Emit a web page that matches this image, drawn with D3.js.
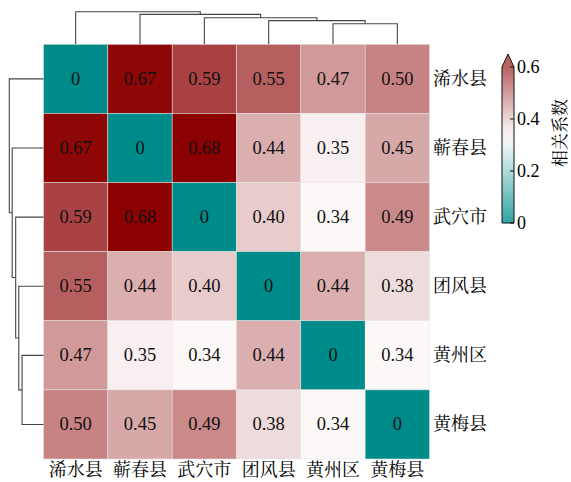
<!DOCTYPE html>
<html>
<head>
<meta charset="utf-8">
<script src="https://cdn.jsdelivr.net/npm/d3@7"></script>
<style>
  body { margin: 0; background: #fff; }
  text { font-family: "Liberation Serif", "Times New Roman", "Noto Serif CJK SC", "Noto Sans CJK SC", serif; }
</style>
</head>
<body>
<div id="chart"></div>
<script>
// counties in clustered order
const labels = ["浠水县", "蕲春县", "武穴市", "团风县", "黄州区", "黄梅县"];

// correlation matrix (rows / cols in label order)
const row0 = [0, 0.67, 0.59, 0.55, 0.47, 0.50];
const row1 = [0.67, 0, 0.68, 0.44, 0.35, 0.45];
const row2 = [0.59, 0.68, 0, 0.40, 0.34, 0.49];
const row3 = [0.55, 0.44, 0.40, 0, 0.44, 0.38];
const row4 = [0.47, 0.35, 0.34, 0.44, 0, 0.34];
const row5 = [0.50, 0.45, 0.49, 0.38, 0.34, 0];
const matrix = [row0, row1, row2, row3, row4, row5];

// linkage (scipy style: node ids >= 6 are clusters)
const mergeLeft = [4, 3, 2, 1, 0];
const mergeRight = [5, 6, 7, 8, 9];
const mergeHeight = [0.52, 0.60, 0.675, 0.76, 0.83];

const cbTicks = [0, 0.2, 0.4, 0.6];

const width = 571, height = 482;

const svg = d3.select("#chart").append("svg")
    .attr("width", width)
    .attr("height", height);

// grid scales
const x = d3.scaleBand().domain(d3.range(labels.length)).range([43.5, 429.5]);
const y = d3.scaleBand().domain(d3.range(labels.length)).range([44.3, 459]);

const color = d3.scaleLinear()
    .domain([0, 0.33, 0.68])
    .range(["#008b8b", "#ffffff", "#8b0000"])
    .clamp(true);

// cells
matrix.forEach((row, i) => {
    row.forEach((v, j) => {
        svg.append("rect")
            .attr("x", x(j))
            .attr("y", y(i))
            .attr("width", x.bandwidth())
            .attr("height", y.bandwidth())
            .attr("fill", color(v))
            .attr("stroke", "#e6e6e6")
            .attr("stroke-width", 0.5);

        svg.append("text")
            .attr("x", x(j) + x.bandwidth() / 2)
            .attr("y", y(i) + y.bandwidth() / 2)
            .attr("text-anchor", "middle")
            .attr("dominant-baseline", "central")
            .attr("font-size", 18.5)
            .attr("fill", "#111")
            .text(v === 0 ? "0" : v.toFixed(2));
    });
});

// right labels
labels.forEach((l, i) => {
    svg.append("text")
        .attr("x", 433)
        .attr("y", y(i) + y.bandwidth() / 2)
        .attr("dominant-baseline", "central")
        .attr("font-size", 18)
        .text(l);
});

// bottom labels
labels.forEach((l, j) => {
    svg.append("text")
        .attr("x", x(j) + x.bandwidth() / 2)
        .attr("y", 476)
        .attr("text-anchor", "middle")
        .attr("font-size", 18)
        .text(l);
});

// dendrogram geometry: position along leaf axis + height of each node
function buildNodes() {
    let pos = {}, h = {};
    labels.forEach((l, i) => { pos[i] = i; h[i] = 0; });
    mergeLeft.forEach((a, k) => {
        let b = mergeRight[k], id = labels.length + k;
        pos[id] = (pos[a] + pos[b]) / 2;
        h[id] = mergeHeight[k];
    });
    return {pos, h};
}
const nodes = buildNodes();
const maxH = d3.max(mergeHeight);

// top dendrogram
const topH = d3.scaleLinear().domain([0, maxH]).range([44, 11.7]);
const topPos = p => x(0) + x.bandwidth() / 2 + p * x.bandwidth();
// left dendrogram
const leftH = d3.scaleLinear().domain([0, maxH]).range([43.5, 9.3]);
const leftPos = p => y(0) + y.bandwidth() / 2 + p * y.bandwidth();

mergeLeft.forEach((a, k) => {
    let b = mergeRight[k], hh = mergeHeight[k];
    let pts = [
        [topPos(nodes.pos[a]), topH(nodes.h[a])],
        [topPos(nodes.pos[a]), topH(hh)],
        [topPos(nodes.pos[b]), topH(hh)],
        [topPos(nodes.pos[b]), topH(nodes.h[b])]
    ];
    svg.append("path")
        .attr("d", d3.line()(pts))
        .attr("fill", "none")
        .attr("stroke", "#444")
        .attr("stroke-width", 1.1);

    let pts2 = [
        [leftH(nodes.h[a]), leftPos(nodes.pos[a])],
        [leftH(hh), leftPos(nodes.pos[a])],
        [leftH(hh), leftPos(nodes.pos[b])],
        [leftH(nodes.h[b]), leftPos(nodes.pos[b])]
    ];
    svg.append("path")
        .attr("d", d3.line()(pts2))
        .attr("fill", "none")
        .attr("stroke", "#444")
        .attr("stroke-width", 1.1);
});

// colorbar
const cbX = 502, cbW = 12;
const cbY = d3.scaleLinear().domain([0, 0.6]).range([223, 67]);

const grad = svg.append("defs").append("linearGradient")
    .attr("id", "cbgrad")
    .attr("x1", "0%").attr("y1", "100%")
    .attr("x2", "0%").attr("y2", "0%");
d3.range(0, 1.0001, 0.1).forEach(t => {
    grad.append("stop")
        .attr("offset", (t * 100) + "%")
        .attr("stop-color", color(t * 0.6));
});

svg.append("rect")
    .attr("x", cbX)
    .attr("y", cbY(0.6))
    .attr("width", cbW)
    .attr("height", cbY(0) - cbY(0.6))
    .attr("fill", "url(#cbgrad)")
    .attr("opacity", 0.8);

svg.append("path")
    .attr("d", d3.line()([[cbX, cbY(0.6)], [cbX + cbW / 2, 54], [cbX + cbW, cbY(0.6)]]))
    .attr("fill", color(0.6))
    .attr("opacity", 0.8);

// outline
svg.append("path")
    .attr("d", d3.line()([
        [cbX, cbY(0)], [cbX, cbY(0.6)], [cbX + cbW / 2, 54],
        [cbX + cbW, cbY(0.6)], [cbX + cbW, cbY(0)]
    ]) + "Z")
    .attr("fill", "none")
    .attr("stroke", "#111")
    .attr("stroke-width", 1);

cbTicks.forEach(t => {
    svg.append("line")
        .attr("x1", cbX + cbW - 4)
        .attr("x2", cbX + cbW)
        .attr("y1", cbY(t))
        .attr("y2", cbY(t))
        .attr("stroke", "#111");
    svg.append("text")
        .attr("x", cbX + cbW + 3)
        .attr("y", cbY(t))
        .attr("dominant-baseline", "central")
        .attr("font-size", 18)
        .text(t === 0 ? "0" : t.toFixed(1));
});

svg.append("text")
    .attr("transform", "translate(560,133) rotate(-90)")
    .attr("text-anchor", "middle")
    .attr("dominant-baseline", "central")
    .attr("font-size", 17)
    .text("相关系数");
</script>
</body>
</html>
